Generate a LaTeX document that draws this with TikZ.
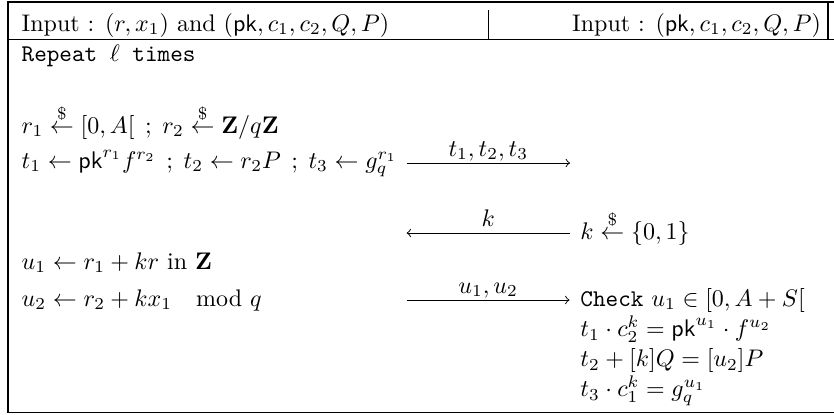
\documentclass[tikz,border=0pt]{standalone}
\usepackage{amsmath}
\usepackage{amssymb}
\usetikzlibrary{arrows.meta}
\newcommand{\semi}{\hspace{4.4pt};\hspace{4.4pt}}
\begin{document}
\begin{tikzpicture}[x=0.41667pt, y=-0.41667pt,
  txt/.style={anchor=base west, inner sep=0pt, outer sep=0pt},
  rtxt/.style={anchor=base east, inner sep=0pt, outer sep=0pt},
  rulel/.style={line width=0.5pt},
  msg/.style={line width=0.4pt, -to},
  lbl/.style={anchor=base, inner sep=0pt, yshift=2.9pt}]
\useasboundingbox (0,0) rectangle (834,414);
% frame
\draw[rulel] (834,2) -- (8,2) -- (8,412.5) -- (834,412.5);
\draw[rulel] (828,2) -- (828,39.5);
\draw[rulel] (8,39.5) -- (834,39.5);
\draw[rulel] (488.7,10) -- (488.7,39.5);
% header
\node[txt] (inL) at (21.7,31) {Input : $(r, x_1)$ and $(\mathsf{pk}, c_1, c_2, Q, P)$};
\node[rtxt] (inR) at (821,31) {Input : $(\mathsf{pk}, c_1, c_2, Q, P)$};
% prover side
\node[txt] (rep) at (21.7,61) {\texttt{Repeat $\ell$ times}};
\node[txt] (r1) at (21.7,133) {$r_1 \stackrel{\$}{\leftarrow} [0, A[$\semi$r_2 \stackrel{\$}{\leftarrow} \mathbf{Z}/q\mathbf{Z}$};
\node[txt] (t1) at (21.7,168) {$t_1 \leftarrow \mathsf{pk}^{r_1} f^{r_2}$\semi$t_2 \leftarrow r_2 P$\semi$t_3 \leftarrow g_q^{r_1}$};
\node[txt] (u1) at (21.7,269) {$u_1 \leftarrow r_1 + kr$ in $\mathbf{Z}$};
\node[txt] (u2) at (21.7,306) {$u_2 \leftarrow r_2 + kx_1 \mkern18mu \mathrm{mod}\,\, q$};
% verifier side
\node[txt] (kk) at (580.5,239) {$k \stackrel{\$}{\leftarrow} \{0,1\}$};
\node[txt] (chk) at (580.5,306) {\texttt{Check} $u_1 \in [0, A+S[$};
\node[txt] (v1) at (580.5,336.5) {$t_1 \cdot c_2^k = \mathsf{pk}^{u_1} \cdot f^{u_2}$};
\node[txt] (v2) at (580.5,366.5) {$t_2 + [k]Q = [u_2]P$};
\node[txt] (v3) at (580.5,396.5) {$t_3 \cdot c_1^k = g_q^{u_1}$};
% messages
\coordinate (m1s) at (406.7,163);
\coordinate (m1e) at (570,163);
\coordinate (m2s) at (406.7,233);
\coordinate (m2e) at (570,233);
\coordinate (m3s) at (406.7,300);
\coordinate (m3e) at (569.5,300);
\draw[msg] (m1s) -- node[lbl] {$t_1, t_2, t_3$} (m1e);
\draw[msg] (m2e) -- node[lbl] {$k$} (m2s);
\draw[msg] (m3s) -- node[lbl] {$u_1, u_2$} (m3e);
\end{tikzpicture}
\end{document}
